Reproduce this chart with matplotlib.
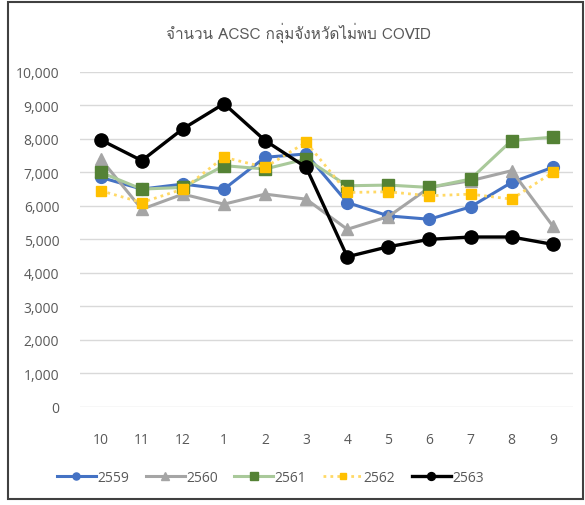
import matplotlib
matplotlib.use('Agg')
import matplotlib.pyplot as plt
from matplotlib import font_manager
from matplotlib.ft2font import FT2Font
from matplotlib.patches import Rectangle

months = ['10', '11', '12', '1', '2', '3', '4', '5', '6', '7', '8', '9']
y2559 = [6850, 6500, 6650, 6500, 7450, 7550, 6100, 5700, 5600, 5970, 6700, 7150]
y2560 = [7400, 5900, 6350, 6050, 6350, 6200, 5300, 5680, 6550, 6750, 7050, 5400]
y2561 = [7000, 6500, 6550, 7200, 7100, 7400, 6600, 6620, 6550, 6800, 7950, 8050]
y2562 = [6450, 6100, 6500, 7450, 7150, 7900, 6400, 6420, 6300, 6350, 6200, 7000]
y2563 = [7970, 7350, 8300, 9050, 7950, 7150, 4480, 4780, 5000, 5070, 5070, 4850]
yticks = list(range(0, 10001, 1000))


# pick a font that actually has Thai glyphs for the title
def thai_font():
    for f in font_manager.fontManager.ttflist:
        try:
            if FT2Font(f.fname).get_char_index(ord('จ')):
                return f.name
        except Exception:
            pass
    return 'DejaVu Sans'


plt.rcParams['font.family'] = ['Open Sans', 'DejaVu Sans']
txt_col = '#595959'

fig = plt.figure(figsize=(5.85, 5.06), dpi=100)
ax = fig.add_axes([0.137, 0.194, 0.843, 0.662])

x = list(range(len(months)))
ax.plot(x, y2559, color='#4472C4', lw=2.2, marker='o', ms=8.5, label='2559', zorder=3)
ax.plot(x, y2560, color='#A5A5A5', lw=2.2, marker='^', ms=8.5, label='2560', zorder=3)
ax.plot(x, y2561, color='#A9C99A', lw=2.2, marker='s', ms=8.5, mfc='#548235', mec='#548235',
        label='2561', zorder=3)
ax.plot(x, y2562, color='#FFD966', lw=2.0, ls=(0, (1, 1.5)), marker='s', ms=7.5,
        mfc='#FFC000', mec='#FFC000', label='2562', zorder=3)
ax.plot(x, y2563, color='black', lw=2.4, marker='o', ms=9.5, label='2563', zorder=4)

ax.set_xlim(-0.5, len(months) - 0.5)
ax.set_ylim(0, 10000)
ax.set_yticks(yticks)
ax.set_yticklabels([f'{v:,}' for v in yticks])
ax.set_xticks(x)
ax.set_xticklabels(months)
ax.tick_params(length=0, colors=txt_col, labelsize=10, pad=15)
ax.tick_params(axis='x', pad=18)
ax.grid(axis='y', color='#D9D9D9', lw=1)
ax.set_axisbelow(True)
for s in ax.spines.values():
    s.set_visible(False)

fig.text(0.51, 0.935, 'จำนวน ACSC กลุ่มจังหวัดไม่พบ COVID', ha='center', va='center',
         fontsize=11, color=txt_col, family=[thai_font(), 'DejaVu Sans'])

fig.legend(loc='center', bbox_to_anchor=(0.462, 0.055), ncol=5, frameon=False,
           fontsize=10, labelcolor=txt_col, handlelength=2.8, handletextpad=0.1,
           columnspacing=1.2, markerscale=0.6)

fig.patches.append(Rectangle((0.014, 0.012), 0.982, 0.982, transform=fig.transFigure,
                             fill=False, ec='#404040', lw=1.5))

fig.savefig('out.png', dpi=100)
